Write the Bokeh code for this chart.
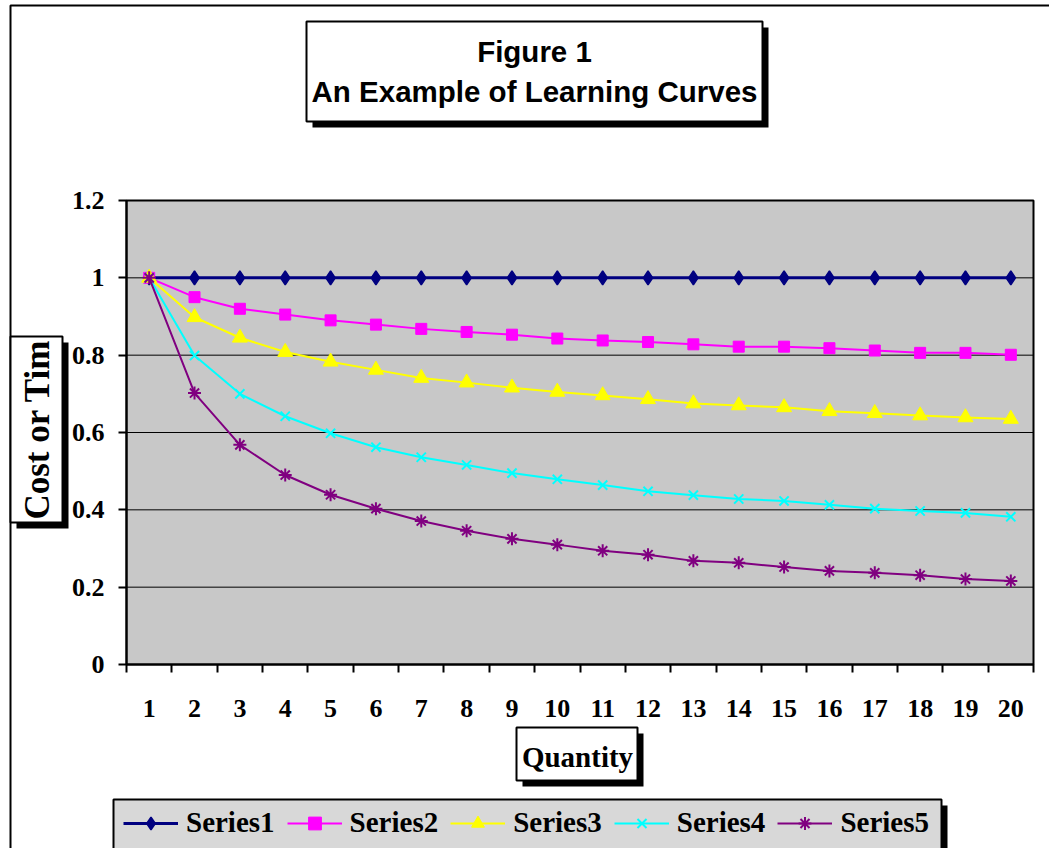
from bokeh.plotting import figure
from bokeh.models import (Range1d, FixedTicker, BoxAnnotation, Label, Legend, LegendItem,
                          CustomJSTickFormatter)
from bokeh.embed import file_html
from bokeh.resources import INLINE

# ---------------- data ----------------
quantity = [1, 2, 3, 4, 5, 6, 7, 8, 9, 10, 11, 12, 13, 14, 15, 16, 17, 18, 19, 20]
series1 = [1.0, 1.0, 1.0, 1.0, 1.0, 1.0, 1.0, 1.0, 1.0, 1.0,
           1.0, 1.0, 1.0, 1.0, 1.0, 1.0, 1.0, 1.0, 1.0, 1.0]
series2 = [1.0, 0.950, 0.920, 0.905, 0.890, 0.879, 0.868, 0.860, 0.853, 0.843,
           0.838, 0.834, 0.828, 0.822, 0.822, 0.818, 0.812, 0.806, 0.806, 0.801]
series3 = [1.0, 0.898, 0.845, 0.808, 0.783, 0.762, 0.741, 0.729, 0.716, 0.705,
           0.696, 0.686, 0.675, 0.670, 0.665, 0.655, 0.650, 0.644, 0.639, 0.635]
series4 = [1.0, 0.799, 0.700, 0.642, 0.598, 0.562, 0.536, 0.516, 0.495, 0.479,
           0.464, 0.448, 0.438, 0.428, 0.423, 0.413, 0.403, 0.397, 0.392, 0.382]
series5 = [1.0, 0.702, 0.568, 0.490, 0.439, 0.403, 0.371, 0.346, 0.325, 0.310,
           0.294, 0.284, 0.268, 0.263, 0.252, 0.242, 0.237, 0.231, 0.221, 0.216]
series_names = ["Series1", "Series2", "Series3", "Series4", "Series5"]
y_ticks = [0, 0.2, 0.4, 0.6, 0.8, 1.0, 1.2]
title_lines = ["Figure 1", "An Example of Learning Curves"]
x_title = "Quantity"
y_title = "Cost or Tim"

# ---------------- layout (pixels) ----------------
W, H = 1049, 848
PX_L, PX_R, PX_T, PX_B = 126, 1033, 200, 664      # plot area on the canvas

x_lo, x_hi = quantity[0] - 0.5, quantity[-1] + 0.5
y_lo, y_hi = y_ticks[0], y_ticks[-1]
kx = (PX_R - PX_L) / (x_hi - x_lo)
ky = (PX_B - PX_T) / (y_hi - y_lo)

p = figure(width=W, height=H, output_backend="svg", toolbar_location=None,
           x_range=Range1d(x_lo - PX_L / kx, x_hi + (W - PX_R) / kx),
           y_range=Range1d(y_lo - (H - PX_B) / ky, y_hi + PX_T / ky),
           min_border=0)
p.title.visible = False
p.background_fill_color = "white"
p.border_fill_color = "white"
p.outline_line_color = None


def sx(X):
    return X


def sy(Y):
    return H - Y


def box(left, top, right, bottom, fill, line=True, level="annotation"):
    b = BoxAnnotation(left=sx(left), right=sx(right), top=sy(top), bottom=sy(bottom),
                      left_units="screen", right_units="screen",
                      top_units="screen", bottom_units="screen",
                      fill_color=fill if fill else "white", fill_alpha=1.0 if fill else 0.0,
                      line_color="black" if line else None, line_alpha=1.0, line_width=2,
                      level=level)
    p.add_layout(b)
    return b


# plot area (gray) with black border
p.add_layout(BoxAnnotation(left=x_lo, right=x_hi, bottom=y_lo, top=y_hi,
                           fill_color="#c8c8c8", fill_alpha=1.0,
                           line_color="black", line_alpha=1.0, line_width=2,
                           level="underlay"))

# horizontal gridlines
p.segment(x0=x_lo, x1=x_hi, y0=y_ticks, y1=y_ticks, line_color="black", line_width=1)

TICK_FONT = "Liberation Serif"

# x axis, fixed at y = 0
xa = p.xaxis[0]
xa.fixed_location = y_lo
xa.bounds = (x_lo, x_hi)
xa.ticker = FixedTicker(ticks=quantity, minor_ticks=[q - 0.5 for q in quantity] + [x_hi])
xa.major_tick_line_color = None
xa.major_tick_out = 0
xa.major_tick_in = 0
xa.minor_tick_out = 8
xa.minor_tick_in = 0
xa.minor_tick_line_color = "black"
xa.minor_tick_line_width = 2
xa.axis_line_color = "black"
xa.axis_line_width = 2
xa.major_label_text_font = TICK_FONT
xa.major_label_text_font_style = "bold"
xa.major_label_text_font_size = "26px"
xa.major_label_text_color = "black"
xa.major_label_standoff = 27

# y axis, fixed at the left edge of the plot area
ya = p.yaxis[0]
ya.fixed_location = x_lo
ya.bounds = (y_lo, y_hi)
ya.ticker = FixedTicker(ticks=y_ticks)
ya.formatter = CustomJSTickFormatter(code="return (Math.round(tick * 10) / 10).toString();")
ya.major_tick_out = 8
ya.major_tick_in = 0
ya.major_tick_line_width = 2
ya.major_tick_line_color = "black"
ya.minor_tick_line_color = None
ya.axis_line_color = "black"
ya.axis_line_width = 2
ya.major_label_text_font = TICK_FONT
ya.major_label_text_font_style = "bold"
ya.major_label_text_font_size = "26px"
ya.major_label_text_color = "black"
ya.major_label_standoff = 14

p.xgrid.visible = False
p.ygrid.visible = False

# ---------------- series ----------------
renderers = []
l1 = p.line(quantity, series1, line_color="#000080", line_width=3)
m1 = p.scatter(quantity, series1, marker="diamond", size=14,
               fill_color="#000080", line_color="#000080", line_width=1.5)
renderers.append([l1, m1])
l2 = p.line(quantity, series2, line_color="#ff00ff", line_width=2)
m2 = p.scatter(quantity, series2, marker="square", size=11, fill_color="#ff00ff", line_color="#ff00ff")
renderers.append([l2, m2])
l3 = p.line(quantity, series3, line_color="#ffff00", line_width=2)
m3 = p.scatter(quantity, series3, marker="triangle", size=15, fill_color="#ffff00", line_color="#ffff00")
renderers.append([l3, m3])
l4 = p.line(quantity, series4, line_color="#00ffff", line_width=2)
m4 = p.scatter(quantity, series4, marker="x", size=13, line_color="#00ffff", line_width=2)
renderers.append([l4, m4])
l5 = p.line(quantity, series5, line_color="#800080", line_width=2)
m5 = p.scatter(quantity, series5, marker="asterisk", size=13, line_color="#800080", line_width=2)
renderers.append([l5, m5])

# ---------------- decorations ----------------
# outer chart border (extends past the window)
box(10, 5, 1200, 1000, None)

# title box with shadow
box(312, 27, 768, 127, "black", line=False)
box(306, 21, 762, 121, "white")
for txt, base in zip(title_lines, [51, 91]):
    p.add_layout(Label(x=sx(534), y=sy(base), x_units="screen", y_units="screen",
                       text=txt, text_font="Liberation Sans", text_font_style="bold",
                       text_font_size="29.5px", text_color="black",
                       text_align="center", text_baseline="alphabetic"))

# y-axis title box
box(16, 342, 68, 528, "black", line=False)
box(10, 336, 62, 522, "white")
p.add_layout(Label(x=sx(37), y=sy(429), x_units="screen", y_units="screen",
                   text=y_title, angle=1.5708, text_font="Liberation Serif",
                   text_font_style="bold", text_font_size="35px", text_color="black",
                   text_align="center", text_baseline="alphabetic"))

# x-axis title box
box(522, 733, 643, 786, "black", line=False)
box(516, 727, 637, 780, "white")
p.add_layout(Label(x=sx(577), y=sy(756), x_units="screen", y_units="screen",
                   text=x_title, text_font="Liberation Serif",
                   text_font_style="bold", text_font_size="29px", text_color="black",
                   text_align="center", text_baseline="alphabetic"))

# legend box
box(119, 805, 947, 1000, "black", line=False)
box(113, 799, 941, 852, "#d8d8d8")

items = [LegendItem(label=n, renderers=r) for n, r in zip(series_names, renderers)]
legend = Legend(items=items, orientation="horizontal", location=(sx(123), sy(839)),
                glyph_width=55, glyph_height=32, label_height=32, label_standoff=8,
                spacing=12, padding=0, margin=0,
                background_fill_alpha=0, border_line_color=None,
                label_text_font="Liberation Serif", label_text_font_style="bold",
                label_text_font_size="29px", label_text_color="black")
p.add_layout(legend, "center")

open("out.html", "w").write(file_html(p, INLINE))
